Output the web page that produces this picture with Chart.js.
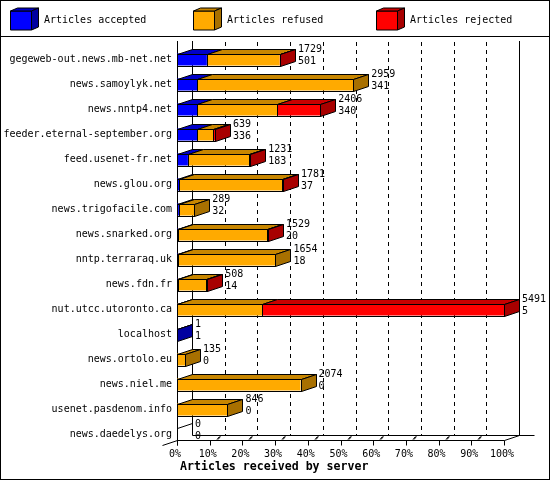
<!DOCTYPE html>
<html>
<head>
<meta charset="utf-8">
<script src="https://cdn.jsdelivr.net/npm/chart.js@4"></script>
<style>
html, body { margin: 0; padding: 0; background: #fff; }
#wrap { width: 550px; height: 480px; }
</style>
</head>
<body>
<div id="wrap"><canvas id="chart" width="550" height="480"></canvas></div>
<script>
const servers = ["gegeweb-out.news.mb-net.net", "news.samoylyk.net", "news.nntp4.net", "feeder.eternal-september.org", "feed.usenet-fr.net", "news.glou.org", "news.trigofacile.com", "news.snarked.org", "nntp.terraraq.uk", "news.fdn.fr", "nut.utcc.utoronto.ca", "localhost", "news.ortolo.eu", "news.niel.me", "usenet.pasdenom.info", "news.daedelys.org"];
const accepted = [501, 341, 340, 336, 183, 37, 32, 20, 18, 14, 5, 1, 0, 0, 0, 0];
const refused = [1222, 2618, 1339, 273, 1028, 1732, 257, 1498, 1636, 474, 1427, 0, 135, 2074, 846, 0];
const rejected = [6, 0, 727, 30, 20, 12, 0, 11, 0, 20, 4059, 0, 0, 0, 0, 0];
const totals = [1729, 2959, 2406, 639, 1231, 1781, 289, 1529, 1654, 508, 5491, 1, 135, 2074, 846, 0];
const maxTotal = 5491;
const percentTicks = [0, 10, 20, 30, 40, 50, 60, 70, 80, 90, 100];

const seriesNames = ["Articles accepted", "Articles refused", "Articles rejected"];
const xTitle = "Articles received by server";
const seriesColors = ["#0000ff", "#ffaa00", "#ff0000"];
const topColors = ["#0000c8", "#c88600", "#c80000"];
const sideColors = ["#0000a0", "#a87000", "#a80000"];

const depthX = 15, depthY = 5;
const fontFamily = '"DejaVu Sans Mono", "Liberation Mono", monospace';
const monoFont = "10px " + fontFamily;

// Fill a polygon and stroke it in black
function poly(ctx, pts, fill) {
    ctx.beginPath();
    pts.forEach((p, i) => i ? ctx.lineTo(p[0], p[1]) : ctx.moveTo(p[0], p[1]));
    ctx.closePath();
    ctx.fillStyle = fill;
    ctx.fill();
    ctx.stroke();
}

function line(ctx, x1, y1, x2, y2) {
    ctx.beginPath();
    ctx.moveTo(x1, y1);
    ctx.lineTo(x2, y2);
    ctx.stroke();
}

// Frame, legend and back walls go under the bars
const backdrop = {
    id: "backdrop",
    beforeDatasetsDraw(chart) {
        const ctx = chart.ctx, xs = chart.scales.x, a = chart.chartArea;
        const wallTop = a.top - 6, right = Math.round(a.right) + 0.5;
        ctx.save();
        ctx.strokeStyle = "#000";
        ctx.lineWidth = 1;
        ctx.strokeRect(0.5, 0.5, 549, 479);
        line(ctx, 0, 36.5, 550, 36.5);

        // legend boxes
        seriesNames.forEach((name, i) => {
            const lx = 10.5 + i * 183;
            poly(ctx, [[lx, 11], [lx + 21, 11], [lx + 21, 30], [lx, 30]], seriesColors[i]);
            poly(ctx, [[lx, 11], [lx + 7, 8], [lx + 28, 8], [lx + 21, 11]], topColors[i]);
            poly(ctx, [[lx + 21, 11], [lx + 28, 8], [lx + 28, 27], [lx + 21, 30]], sideColors[i]);
            ctx.fillStyle = "#000";
            ctx.font = monoFont;
            ctx.textBaseline = "middle";
            ctx.fillText(name, lx + 33.5, 20);
        });

        // walls
        const floor = Math.round(a.bottom) - 6.5, left = Math.round(a.left) + 0.5;
        line(ctx, left, wallTop, left, floor + 5);
        line(ctx, left + depthX, wallTop, left + depthX, floor - depthY);
        line(ctx, left, floor, right, floor);
        line(ctx, left + depthX, floor - depthY, right + 2 * depthX, floor - depthY);
        line(ctx, right + depthX, wallTop, right + depthX, floor - depthY);
        line(ctx, left, floor, left - depthX, floor + depthY);
        line(ctx, right, floor, right + depthX, floor - depthY);
        line(ctx, left, floor - 12, left + depthX, floor - 12 - depthY);

        // dashed verticals on the back wall and ticks on the floor
        percentTicks.forEach(p => {
            const x = Math.round(xs.getPixelForValue(p / 100 * maxTotal)) + 0.5;
            line(ctx, x, floor, x, floor + 5);
            if (p === 0 || p === 100) return;
            ctx.setLineDash([4, 4]);
            line(ctx, x + depthX, wallTop + 1, x + depthX, floor - depthY);
            ctx.setLineDash([]);
            line(ctx, x + 6.5, floor - 1, x + 9, floor - 4);
            line(ctx, x + 7.5, floor - 1, x + 10, floor - 4);
        });

        // axis title
        ctx.fillStyle = "#000";
        ctx.font = "bold 11.6px " + fontFamily;
        ctx.textBaseline = "middle";
        ctx.fillText(xTitle, 180, 467);
        ctx.restore();
    }
};

// Front faces come from the bar elements, top and side faces are added here
const bars3d = {
    id: "bars3d",
    afterDatasetsDraw(chart) {
        const ctx = chart.ctx;
        ctx.save();
        ctx.strokeStyle = "#000";
        ctx.lineWidth = 1;
        servers.forEach((name, row) => {
            let last = null;
            chart.data.datasets.forEach((ds, i) => {
                const el = chart.getDatasetMeta(i).data[row];
                if (!ds.data[row]) return;
                const y0 = Math.round(el.y - el.height / 2) + 0.5;
                const x0 = Math.round(el.base) + 0.5, x1 = Math.round(el.x) + 0.5;
                const h = Math.round(el.height);
                ctx.strokeRect(x0, y0, x1 - x0, h);
                poly(ctx, [[x0, y0], [x0 + depthX, y0 - depthY], [x1 + depthX, y0 - depthY], [x1, y0]], topColors[i]);
                last = { x1, y0, h, i };
            });
            if (last) {
                const { x1, y0, h, i } = last;
                poly(ctx, [[x1, y0], [x1 + depthX, y0 - depthY], [x1 + depthX, y0 + h - depthY], [x1, y0 + h]], sideColors[i]);
            }
            const ref = chart.getDatasetMeta(0).data[row];
            const tx = chart.scales.x.getPixelForValue(totals[row]) + depthX + 3;
            ctx.fillStyle = "#000";
            ctx.font = monoFont;
            ctx.textBaseline = "middle";
            ctx.fillText(String(totals[row]), tx, ref.y - 10);
            ctx.fillText(String(accepted[row]), tx, ref.y + 2);
        });
        ctx.restore();
    }
};

const chart = new Chart(document.getElementById("chart"), {
    type: "bar",
    data: {
        labels: servers,
        datasets: seriesNames.map((name, i) => ({
            label: name,
            data: [accepted, refused, rejected][i],
            backgroundColor: seriesColors[i],
            borderWidth: 0,
            categoryPercentage: 0.48,
            barPercentage: 1
        }))
    },
    options: {
        indexAxis: "y",
        responsive: false,
        animation: false,
        layout: { padding: { top: 47, right: 46, left: 0, bottom: 0 } },
        plugins: { legend: { display: false }, tooltip: { enabled: false } },
        scales: {
            x: {
                stacked: true,
                min: 0,
                max: maxTotal,
                afterBuildTicks: s => { s.ticks = percentTicks.map(p => ({ value: p / 100 * maxTotal })); },
                afterFit: s => { s.height = 33; },
                grid: { display: false, drawTicks: false },
                border: { display: false },
                ticks: {
                    autoSkip: false,
                    maxRotation: 0,
                    color: "#000",
                    padding: 1,
                    labelOffset: -2,
                    font: { family: fontFamily, size: 10 },
                    callback: v => Math.round(v / maxTotal * 100) + "%"
                }
            },
            y: {
                stacked: true,
                afterFit: s => { s.width = 177; },
                grid: { display: false, drawTicks: false },
                border: { display: false },
                ticks: {
                    autoSkip: false,
                    color: "#000",
                    padding: 5,
                    font: { family: fontFamily, size: 10 }
                }
            }
        }
    },
    plugins: [backdrop, bars3d]
});
</script>
</body>
</html>
